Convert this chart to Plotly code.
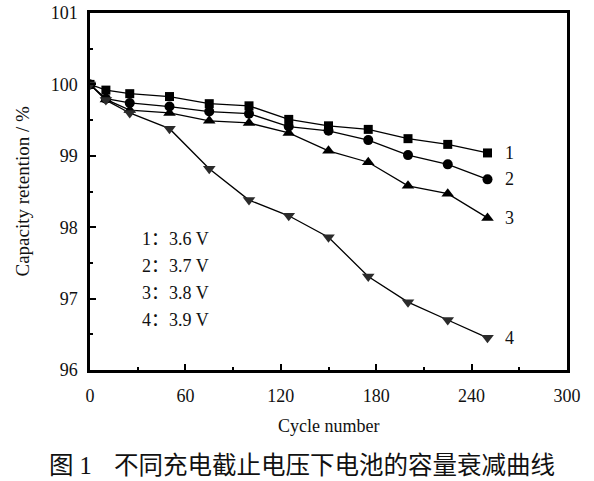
import plotly.graph_objects as go

# ── data ─────────────────────────────────────────────────────────────────────
cycles = [0, 10, 25, 50, 75, 100, 125, 150, 175, 200, 225, 250]

ret_36v = [100.00, 99.92, 99.87, 99.83, 99.73, 99.70, 99.51, 99.42, 99.37, 99.24, 99.16, 99.04]
ret_37v = [100.00, 99.80, 99.74, 99.69, 99.62, 99.59, 99.41, 99.35, 99.22, 99.01, 98.88, 98.67]
ret_38v = [100.00, 99.79, 99.64, 99.60, 99.49, 99.46, 99.32, 99.07, 98.91, 98.58, 98.47, 98.13]
ret_39v = [100.00, 99.78, 99.60, 99.38, 98.82, 98.38, 98.16, 97.86, 97.31, 96.95, 96.70, 96.45]

curve_ids = ["1", "2", "3", "4"]
voltages = ["3.6 V", "3.7 V", "3.8 V", "3.9 V"]

x_ticks = [0, 60, 120, 180, 240, 300]
y_ticks = [96, 97, 98, 99, 100, 101]

SERIF = "Liberation Serif, Times New Roman, Noto Sans CJK SC, serif"
CJK = "Liberation Serif, Noto Sans CJK SC, sans-serif"

series = [
    (ret_36v, "square", 9, "#000000"),
    (ret_37v, "circle", 10, "#000000"),
    (ret_38v, "triangle-up", 11, "#000000"),
    (ret_39v, "triangle-down", 11, "#2b2b2b"),
]

fig = go.Figure()
for (vals, sym, size, col), cid, v in zip(series, curve_ids, voltages):
    fig.add_trace(go.Scatter(
        x=cycles, y=vals, mode="lines+markers", name=f"{cid}: {v}",
        line=dict(color="#000000", width=1.3),
        marker=dict(symbol=sym, size=size, color=col),
        showlegend=False,
    ))
    # curve number at the end of each line
    fig.add_annotation(
        x=cycles[-1], y=vals[-1], text=cid, showarrow=False,
        xshift=22, font=dict(family=SERIF, size=18, color="#111111"),
    )

# in-plot key
key_y = [97.83, 97.46, 97.08, 96.70]
for cid, v, ky in zip(curve_ids, voltages, key_y):
    fig.add_annotation(
        x=31.4, y=ky, text=f"{cid}：{v}", showarrow=False,
        xanchor="left", yanchor="middle",
        font=dict(family=SERIF, size=18, color="#111111"),
    )

# axis titles
fig.add_annotation(
    xref="paper", yref="paper", x=0.5, y=0, yshift=-56,
    xanchor="center", yanchor="middle",
    text="Cycle number", showarrow=False,
    font=dict(family=SERIF, size=18, color="#111111"),
)
fig.add_annotation(
    xref="paper", yref="paper", x=0, y=0.5, xshift=-68,
    xanchor="center", yanchor="middle",
    text="Capacity retention / %", showarrow=False, textangle=-90,
    font=dict(family=SERIF, size=19, color="#111111"),
)

# figure caption
fig.add_annotation(
    xref="paper", yref="paper", x=0, y=0, xshift=-43, yshift=-95,
    xanchor="left", yanchor="middle", text="图 1", showarrow=False,
    font=dict(family=CJK, size=24.5, color="#111111"),
)
fig.add_annotation(
    xref="paper", yref="paper", x=0, y=0, xshift=22, yshift=-95,
    xanchor="left", yanchor="middle",
    text="不同充电截止电压下电池的容量衰减曲线", showarrow=False,
    font=dict(family=CJK, size=24.5, color="#111111"),
)

axis_common = dict(
    showline=True, linecolor="#000000", linewidth=2.5, mirror=True,
    ticks="inside", ticklen=6, tickwidth=2, tickcolor="#000000",
    showgrid=False, zeroline=False, automargin=False,
    ticklabeloverflow="allow",
    tickfont=dict(family=SERIF, size=18, color="#111111"),
)

fig.update_xaxes(
    range=[0, 300], tickvals=x_ticks,
    minor=dict(ticks="inside", ticklen=3, tickwidth=2, dtick=30, tick0=0, tickcolor="#000000"),
    ticklabelstandoff=8,
    **axis_common,
)
fig.update_yaxes(
    range=[96, 101], tickvals=y_ticks,
    minor=dict(ticks="inside", ticklen=3, tickwidth=2, dtick=0.5, tick0=96, tickcolor="#000000"),
    ticklabelstandoff=6,
    **axis_common,
)

fig.update_layout(
    width=594, height=481,
    margin=dict(l=90, r=27, t=13, b=111),
    paper_bgcolor="#ffffff",
    plot_bgcolor="#ffffff",
    font=dict(family=SERIF, color="#111111"),
)

# drop the browser's default 8px body margin so the figure fills the window
fig.write_html(
    "out.html",
    config={"displayModeBar": False},
    post_script="document.body.style.margin='0';document.body.style.overflow='hidden';",
)
